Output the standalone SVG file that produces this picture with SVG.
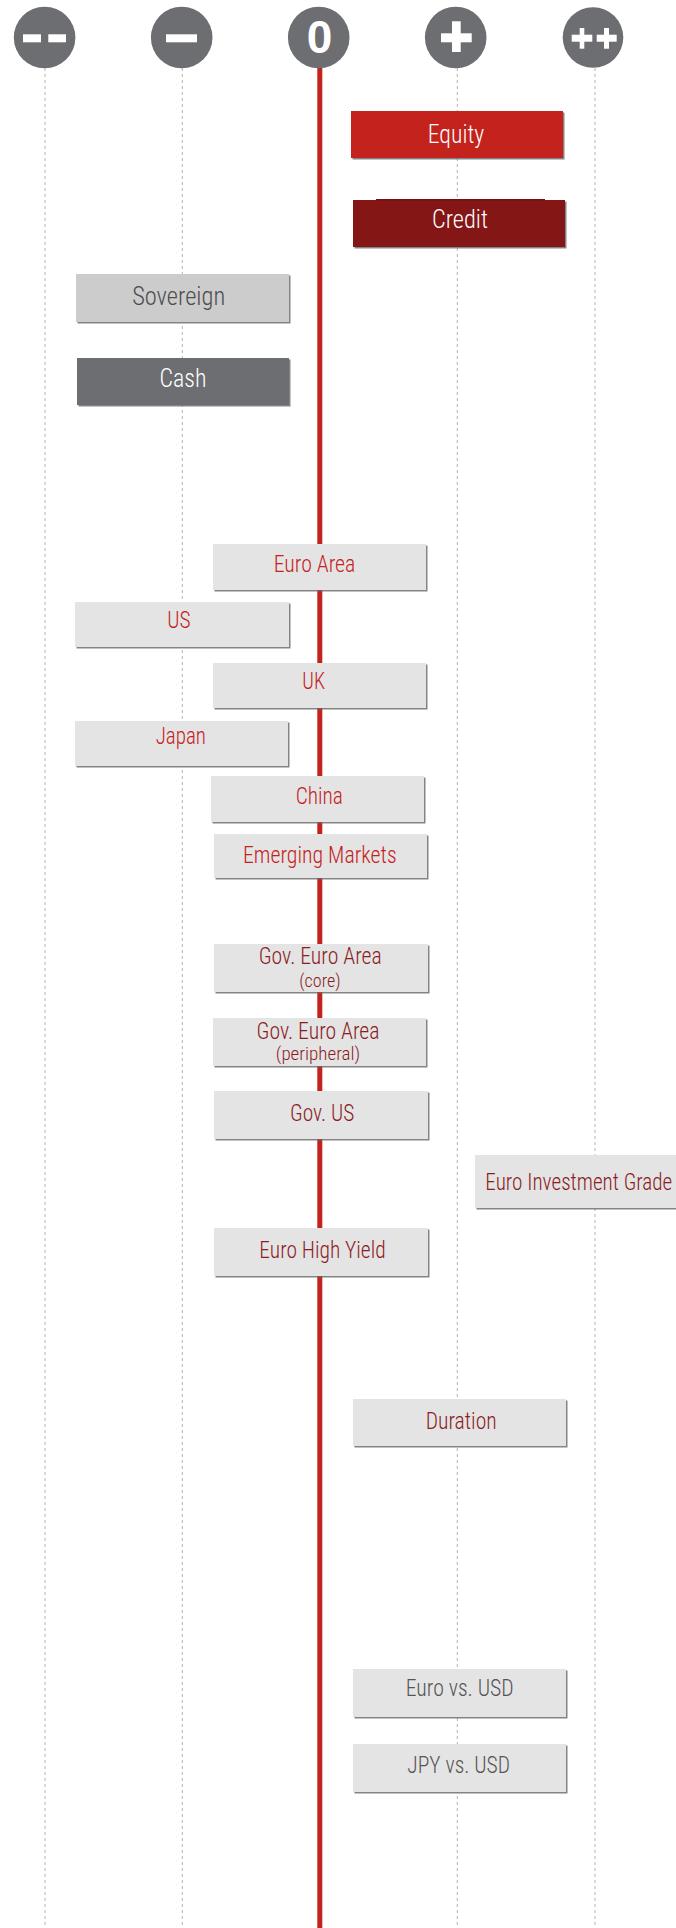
<svg xmlns="http://www.w3.org/2000/svg" width="676" height="1928" viewBox="0 0 676 1928">
<defs>
<filter id="sh" x="-5%" y="-10%" width="115%" height="130%">
<feDropShadow dx="1.5" dy="1.5" stdDeviation="0.7" flood-color="#666" flood-opacity="0.8"/>
</filter>
<style>
text{font-family:"Roboto Condensed","Liberation Sans Narrow","Liberation Sans",Arial,sans-serif;font-weight:300;text-anchor:middle}
.dash{stroke:#b3b3b3;stroke-width:1;stroke-dasharray:3 3;fill:none}
.circ{fill:#6d6e71}
.icon{fill:#fff}
.box{filter:url(#sh)}
.lt{fill:#e4e4e4}
.t1{font-size:26px}
.t2{font-size:24px}
.t3{font-size:19px}
.w{fill:#fff}
.red{fill:#c4221d}
.dred{fill:#8b1c1f}
.gry{fill:#555}
</style>
</defs>
<rect width="676" height="1928" fill="#fff"/>
<g id="axes">
<line class="dash" x1="45" y1="68" x2="45" y2="1928"/>
<line class="dash" x1="182.3" y1="68" x2="182.3" y2="1928"/>
<line class="dash" x1="457.3" y1="68" x2="457.3" y2="1928"/>
<line class="dash" x1="595" y1="68" x2="595" y2="1928"/>
<line x1="319.8" y1="60" x2="319.8" y2="1928" stroke="#c4221d" stroke-width="5"/>
</g>
<g id="scale-mm">
<circle class="circ" cx="44.6" cy="37.5" r="30.8"/>
<rect class="icon" x="23" y="34.3" width="18" height="8"/>
<rect class="icon" x="48.3" y="34.3" width="17.7" height="8"/>
</g>
<g id="scale-m">
<circle class="circ" cx="181.7" cy="37.5" r="30.8"/>
<rect class="icon" x="166" y="34.3" width="31" height="8"/>
</g>
<g id="scale-0">
<circle class="circ" cx="318.7" cy="37.5" r="30.8"/>
<text x="319.5" y="53.3" style="font-family:'Liberation Sans',Arial,sans-serif;font-weight:bold;font-size:46px" fill="#fff">0</text>
</g>
<g id="scale-p">
<circle class="circ" cx="455.7" cy="37.5" r="30.8"/>
<rect class="icon" x="441" y="33.3" width="30.7" height="9"/>
<rect class="icon" x="452" y="21.3" width="8.7" height="30.7"/>
</g>
<g id="scale-pp">
<circle class="circ" cx="593" cy="37.5" r="30.3"/>
<rect class="icon" x="571.7" y="34.7" width="20.6" height="7"/>
<rect class="icon" x="579.7" y="28" width="4.6" height="20.7"/>
<rect class="icon" x="596.7" y="34.7" width="20" height="7"/>
<rect class="icon" x="604" y="28" width="5" height="20.7"/>
</g>
<g id="equity">
<rect class="box" x="351" y="111" width="212" height="47" fill="#c4221d"/>
<text class="t1 w" x="456" y="142.7" textLength="56.5" lengthAdjust="spacingAndGlyphs">Equity</text>
</g>
<g id="credit">
<rect class="box" x="353" y="200" width="212" height="47" fill="#841719"/>
<rect x="376" y="199" width="169" height="1.5" fill="#6e1214"/>
<text class="t1 w" x="460" y="228.3" textLength="56" lengthAdjust="spacingAndGlyphs">Credit</text>
</g>
<g id="sovereign">
<rect class="box" x="76" y="274" width="213" height="48" fill="#cccccc"/>
<text class="t1" x="178.7" y="305" fill="#4d4d4f" textLength="93" lengthAdjust="spacingAndGlyphs">Sovereign</text>
</g>
<g id="cash">
<rect class="box" x="77" y="358" width="212" height="47" fill="#6d6e71"/>
<text class="t1 w" x="183" y="386.7" textLength="47" lengthAdjust="spacingAndGlyphs">Cash</text>
</g>
<g id="euro-area">
<rect class="box lt" x="213" y="544" width="213" height="46"/>
<text class="t2 red" x="314.5" y="572.3" textLength="81.7" lengthAdjust="spacingAndGlyphs">Euro Area</text>
</g>
<g id="us">
<rect class="box lt" x="75" y="602" width="214" height="45"/>
<text class="t2 red" x="179" y="627.7" textLength="23.3" lengthAdjust="spacingAndGlyphs">US</text>
</g>
<g id="uk">
<rect class="box lt" x="213" y="663" width="213" height="45"/>
<text class="t2 red" x="313.7" y="688.7" textLength="22.7" lengthAdjust="spacingAndGlyphs">UK</text>
</g>
<g id="japan">
<rect class="box lt" x="75" y="721" width="213" height="45"/>
<text class="t2 red" x="180.8" y="744.3" textLength="50.3" lengthAdjust="spacingAndGlyphs">Japan</text>
</g>
<g id="china">
<rect class="box lt" x="211" y="776" width="213" height="46"/>
<text class="t2 red" x="319.3" y="804" textLength="47.3" lengthAdjust="spacingAndGlyphs">China</text>
</g>
<g id="emerging-markets">
<rect class="box lt" x="214" y="834" width="213" height="44"/>
<text class="t2 red" x="319.8" y="862.7" textLength="153.7" lengthAdjust="spacingAndGlyphs">Emerging Markets</text>
</g>
<g id="gov-euro-core">
<rect class="box lt" x="214" y="944" width="214" height="48"/>
<text class="t2 dred" x="320.2" y="964" textLength="123" lengthAdjust="spacingAndGlyphs">Gov. Euro Area</text>
<text class="t3 dred" x="320" y="986.7" textLength="41.3" lengthAdjust="spacingAndGlyphs">(core)</text>
</g>
<g id="gov-euro-peripheral">
<rect class="box lt" x="213" y="1018" width="213" height="48"/>
<text class="t2 dred" x="318" y="1039" textLength="123" lengthAdjust="spacingAndGlyphs">Gov. Euro Area</text>
<text class="t3 dred" x="318" y="1059.5" textLength="84.3" lengthAdjust="spacingAndGlyphs">(peripheral)</text>
</g>
<g id="gov-us">
<rect class="box lt" x="214" y="1091" width="214" height="48"/>
<text class="t2 dred" x="322.2" y="1120.7" textLength="64.3" lengthAdjust="spacingAndGlyphs">Gov. US</text>
</g>
<g id="euro-ig">
<rect class="box lt" x="475" y="1155" width="220" height="53"/>
<text class="t2 dred" x="485.3" y="1190" style="text-anchor:start" textLength="187" lengthAdjust="spacingAndGlyphs">Euro Investment Grade</text>
</g>
<g id="euro-hy">
<rect class="box lt" x="214" y="1228" width="214" height="48"/>
<text class="t2 dred" x="322.5" y="1258.3" textLength="126.3" lengthAdjust="spacingAndGlyphs">Euro High Yield</text>
</g>
<g id="duration">
<rect class="box lt" x="353" y="1399" width="213" height="47"/>
<text class="t2 dred" x="461.2" y="1429.3" textLength="71" lengthAdjust="spacingAndGlyphs">Duration</text>
</g>
<g id="eur-usd">
<rect class="box lt" x="353" y="1669" width="213" height="48"/>
<text class="t2 gry" x="459.7" y="1695.7" textLength="108" lengthAdjust="spacingAndGlyphs">Euro vs. USD</text>
</g>
<g id="jpy-usd">
<rect class="box lt" x="353" y="1744" width="213" height="48"/>
<text class="t2 gry" x="458.7" y="1772.7" textLength="102.7" lengthAdjust="spacingAndGlyphs">JPY vs. USD</text>
</g>
</svg>
